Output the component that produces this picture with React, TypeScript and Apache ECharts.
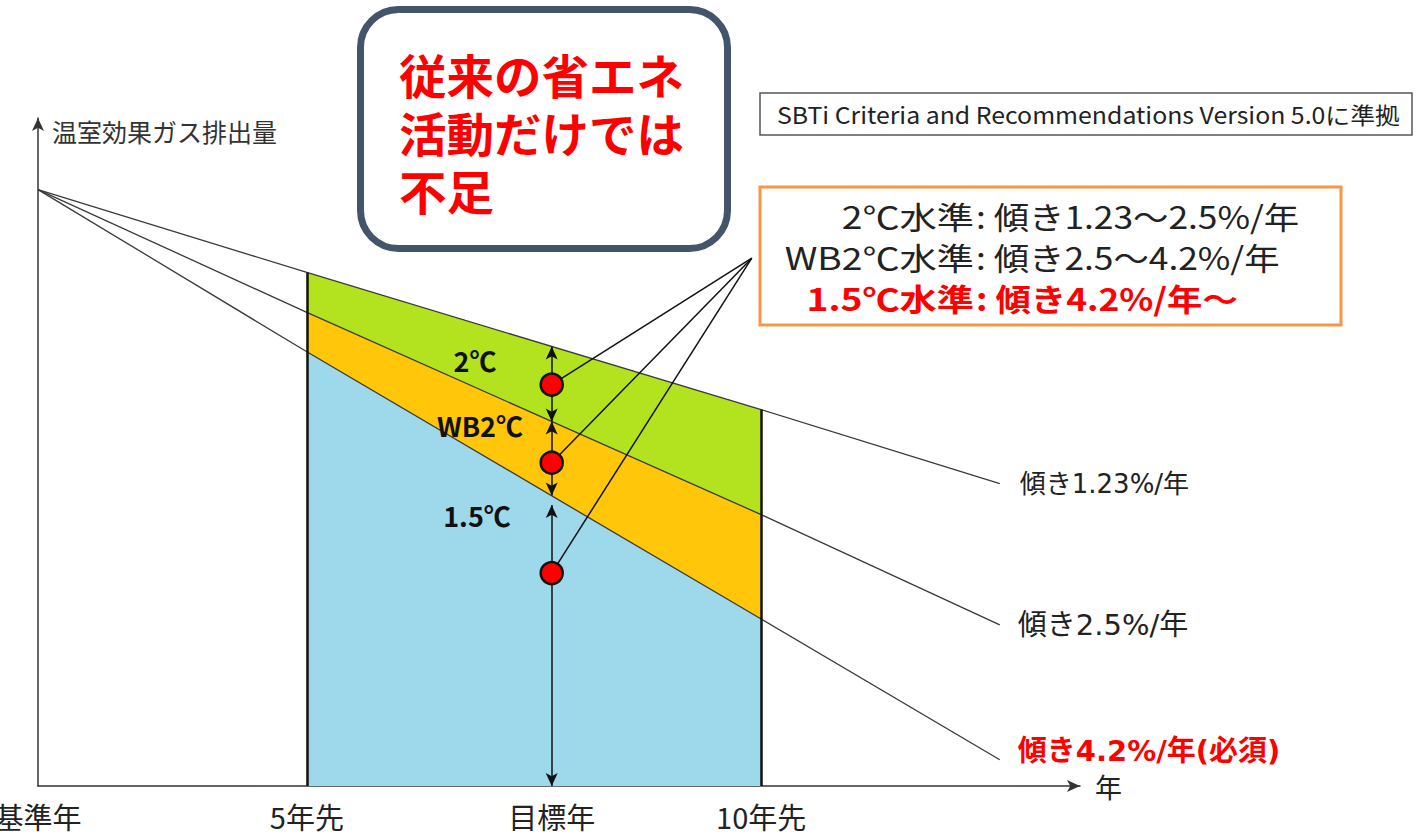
import React, { useEffect, useRef } from "react";
import * as echarts from "echarts";

// Schematic positions along the time axis (0 = base year, 100 = end of axis)
const tickLabels = ["基準年", "5年先", "目標年", "10年先"];
const tickPositions = [0, 25.8, 49.3, 69.4];
const lineX = [0, 25.8, 69.4, 92.3]; // base, 5年先, 10年先, line end

// Emission index (base year = 100) at lineX
const slope123 = [100, 86.1, 63.1, 50.7];
const slope25 = [100, 79.4, 45.5, 27.0];
const slope42 = [100, 72.8, 28.0, 4.4];

const slopeLabels = ["傾き1.23%/年", "傾き2.5%/年", "傾き4.2%/年(必須)"];

// At the target year
const targetX = 49.3;
const rangeArrows = [
  [73.7, 61.1],
  [61.1, 48.7],
  [47.1, 0],
];
const dots = [67.3, 54.2, 35.7];
const calloutPoint = [68.5, 88.5];

const boxLines = ["従来の省エネ", "活動だけでは", "不足"];
const levelRows = [
  ["2℃水準", "傾き1.23～2.5%/年", false],
  ["WB2℃水準", "傾き2.5～4.2%/年", false],
  ["1.5℃水準", "傾き4.2%/年～", true],
];
const bandLabels = [
  ["2℃", 475, 360],
  ["WB2℃", 480, 425],
  ["1.5℃", 477, 515],
];

const FONT = '"Noto Sans CJK JP", "Noto Sans", sans-serif';
const WFONT = '"DejaVu Sans", "Noto Sans CJK JP", sans-serif';

export default function App() {
  const ref = useRef<HTMLDivElement>(null);
  useEffect(() => {
    document.body.style.margin = "0";
    const chart = echarts.init(ref.current!, null, { renderer: "svg" });
    const pts = (vals: number[]) => lineX.map((x, i) => [x, vals[i]]);
    const areaPts = (vals: number[]) => [
      [lineX[1], vals[1]],
      [lineX[2], vals[2]],
    ];
    const area = (name: string, vals: number[], color: string) => ({
      name,
      type: "line",
      data: areaPts(vals),
      symbol: "none",
      lineStyle: { width: 0 },
      areaStyle: { color, opacity: 1 },
      z: 1,
      silent: true,
    });
    const slopeLine = (i: number, vals: number[], red: boolean, size: number, dist: number, offY: number) => ({
      type: "line",
      data: pts(vals),
      symbol: "none",
      lineStyle: { color: "#3a3a3a", width: 1.3 },
      z: 3,
      silent: true,
      endLabel: {
        show: true,
        formatter: slopeLabels[i],
        distance: dist,
        offset: [0, offY],
        fontSize: size,
        fontFamily: WFONT,
        fontWeight: red ? "bold" : "normal",
        color: red ? "#FF0000" : "#222",
      },
    });

    const option: any = {
      animation: false,
      backgroundColor: "#fff",
      grid: {
        left: 38,
        right: 344,
        top: 118,
        bottom: 51,
        containLabel: false,
        outerBoundsMode: "none",
      },
      xAxis: {
        type: "value",
        min: 0,
        max: 100,
        axisLine: {
          show: true,
          symbol: ["none", "arrow"],
          symbolSize: [9, 13],
          lineStyle: { color: "#333", width: 1.5 },
        },
        axisTick: { show: false },
        splitLine: { show: false },
        axisLabel: {
          customValues: tickPositions,
          formatter: (v: number) => {
            const i = tickPositions.findIndex((p) => Math.abs(p - v) < 0.01);
            return i >= 0 ? tickLabels[i] : "";
          },
          fontSize: 29,
          fontFamily: FONT,
          color: "#222",
          margin: 15,
          hideOverlap: false,
          showMinLabel: true,
        },
        name: "年",
        nameLocation: "end",
        nameGap: 15,
        nameTextStyle: { fontSize: 27, fontFamily: FONT, color: "#222", padding: [17, 0, 0, 0] },
      },
      yAxis: {
        type: "value",
        min: 0,
        max: 112,
        axisLine: {
          show: true,
          symbol: ["none", "arrow"],
          symbolSize: [9, 13],
          lineStyle: { color: "#333", width: 1.5 },
        },
        axisTick: { show: false },
        axisLabel: { show: false },
        splitLine: { show: false },
      },
      series: [
        area("2℃", slope123, "#B3E31E"),
        area("WB2℃", slope25, "#FFC60A"),
        area("1.5℃", slope42, "#9DD9EA"),
        slopeLine(0, slope123, false, 26, 20, 0),
        slopeLine(1, slope25, false, 29, 18, 0),
        slopeLine(2, slope42, true, 29, 18, -9),
        {
          type: "line",
          data: [],
          z: 4,
          markLine: {
            silent: true,
            symbol: ["none", "none"],
            label: { show: false },
            lineStyle: { color: "#111", width: 2.5, type: "solid" },
            data: [
              [{ coord: [lineX[1], 0] }, { coord: [lineX[1], slope123[1]] }],
              [{ coord: [lineX[2], 0] }, { coord: [lineX[2], slope123[2]] }],
            ],
          },
        },
        {
          type: "line",
          data: [],
          z: 5,
          markLine: {
            silent: true,
            symbol: ["arrow", "arrow"],
            symbolSize: [9, 13],
            label: { show: false },
            lineStyle: { color: "#111", width: 1.5, type: "solid" },
            data: rangeArrows.map((r) => [
              { coord: [targetX, r[0]] },
              { coord: [targetX, r[1]] },
            ]),
          },
        },
        {
          type: "line",
          data: [],
          z: 5,
          markLine: {
            silent: true,
            symbol: ["none", "none"],
            label: { show: false },
            lineStyle: { color: "#111", width: 1.5, type: "solid" },
            data: dots.map((d) => [
              { coord: [targetX, d] },
              { coord: calloutPoint },
            ]),
          },
        },
        {
          type: "scatter",
          data: dots.map((d) => [targetX, d]),
          symbolSize: 22,
          itemStyle: { color: "#FF0000", borderColor: "#111", borderWidth: 2.5, opacity: 1 },
          z: 6,
          silent: true,
        },
      ],
      graphic: [
        {
          type: "text",
          x: 52,
          y: 131,
          style: {
            text: "温室効果ガス排出量",
            fontSize: 25,
            fontFamily: FONT,
            fill: "#333",
            textAlign: "left",
            textVerticalAlign: "middle",
          },
        },
        {
          type: "rect",
          shape: { x: 360.5, y: 9.5, width: 367, height: 239, r: 38 },
          style: { fill: "#fff", stroke: "#44546A", lineWidth: 7 },
          z: 10,
        },
        ...boxLines.map((t, i) => ({
          type: "text",
          x: 399,
          y: 74 + i * 58,
          z: 11,
          scaleX: 1.08,
          scaleY: 1.05,
          style: {
            text: t,
            fontSize: 44,
            fontWeight: "bold",
            fontFamily: FONT,
            fill: "#FF0000",
            textAlign: "left",
            textVerticalAlign: "middle",
          },
        })),
        {
          type: "rect",
          shape: { x: 760, y: 93, width: 652, height: 42 },
          style: { fill: "#fff", stroke: "#555", lineWidth: 1.5 },
          z: 10,
        },
        {
          type: "text",
          x: 777,
          y: 114,
          z: 11,
          scaleX: 1.08,
          style: {
            text: "SBTi Criteria and Recommendations Version 5.0に準拠",
            fontSize: 23,
            fontFamily: FONT,
            fill: "#222",
            textAlign: "left",
            textVerticalAlign: "middle",
          },
        },
        {
          type: "rect",
          shape: { x: 760, y: 187, width: 581, height: 138 },
          style: { fill: "#fff", stroke: "#F79646", lineWidth: 3 },
          z: 10,
        },
        ...levelRows.flatMap(([a, b, red], i) => [
          {
            type: "text",
            x: 974,
            y: 215 + i * 41,
            z: 11,
            scaleX: 1.2,
            style: {
              text: a as string,
              fontSize: 31,
              lineHeight: 36,
              fontWeight: red ? "bold" : "normal",
              fontFamily: FONT,
              fill: red ? "#FF0000" : "#222",
              textAlign: "right",
              textVerticalAlign: "middle",
            },
          },
          {
            type: "text",
            x: 976,
            y: 215 + i * 41,
            z: 11,
            scaleX: 1.14,
            style: {
              text: ": " + (b as string),
              fontSize: 31,
              lineHeight: 36,
              fontWeight: red ? "bold" : "normal",
              fontFamily: FONT,
              fill: red ? "#FF0000" : "#222",
              textAlign: "left",
              textVerticalAlign: "middle",
            },
          },
        ]),
        ...bandLabels.map(([t, x, y]) => ({
          type: "text",
          x: x as number,
          y: y as number,
          z: 11,
          style: {
            text: t as string,
            fontSize: 27,
            fontWeight: "bold",
            fontFamily: FONT,
            fill: "#111",
            textAlign: "center",
            textVerticalAlign: "middle",
          },
        })),
      ],
    };
    chart.setOption(option);
    return () => chart.dispose();
  }, []);
  return <div ref={ref} style={{ width: 1424, height: 837 }} />;
}
